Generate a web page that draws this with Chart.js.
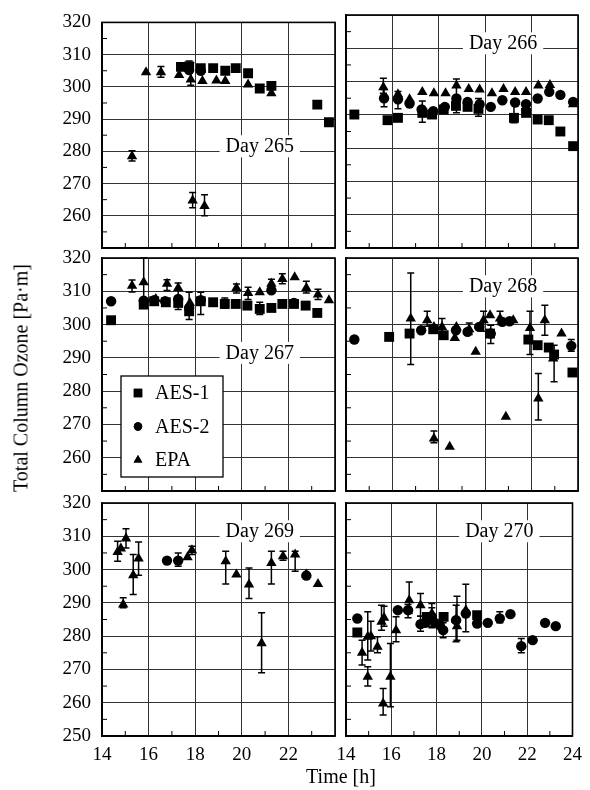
<!DOCTYPE html>
<html>
<head>
<meta charset="utf-8">
<script src="https://cdn.jsdelivr.net/npm/chart.js@4.4.0/dist/chart.umd.min.js"></script>
<style>
  html, body { margin: 0; padding: 0; background: #fff; }
  #wrap { position: relative; width: 590px; height: 790px; overflow: hidden; }
  #wrap canvas { position: absolute; left: 0; top: 0; }
  .title { position: absolute; font-family: 'Liberation Serif', 'DejaVu Serif', serif; font-size: 20px; color: #000; white-space: nowrap; }
  #ytitle { left: 21px; top: 378px; transform: translate(-50%, -50%) rotate(-90deg); }
  #xtitle { left: 341px; top: 776px; transform: translate(-50%, -50%); }
</style>
</head>
<body>
<div id="wrap">
  <canvas id="p265" width="590" height="790"></canvas>
  <canvas id="p266" width="590" height="790"></canvas>
  <canvas id="p267" width="590" height="790"></canvas>
  <canvas id="p268" width="590" height="790"></canvas>
  <canvas id="p269" width="590" height="790"></canvas>
  <canvas id="p270" width="590" height="790"></canvas>
  <div id="ytitle" class="title">Total Column Ozone [Pa·m]</div>
  <div id="xtitle" class="title">Time [h]</div>
</div>
<script>
// tick values
const timeTicks = [14, 16, 18, 20, 22, 24];
const ozoneTicks = [250, 260, 270, 280, 290, 300, 310, 320];
const seriesNames = ['AES-1', 'AES-2', 'EPA'];

// [time h, ozone, error low, error high]
const day265Aes1 = [[17.39, 306.2], [17.74, 306.3, 304.5, 308.0], [18.24, 305.8], [18.77, 305.8], [19.29, 305.0],
  [19.74, 305.8], [20.27, 304.2], [20.77, 299.5], [21.27, 300.3], [23.24, 294.5], [23.74, 289.0]];
const day265Aes2 = [[17.74, 305.2], [18.24, 305.0]];
const day265Epa = [[15.29, 278.5, 277.0, 280.2], [15.89, 304.5], [16.53, 304.5, 303.0, 306.3], [17.31, 303.7],
  [17.81, 302.3, 300.5, 307.5], [18.31, 301.8], [18.91, 302.0], [19.29, 301.8], [20.27, 300.7], [21.27, 298.0],
  [17.89, 264.7, 262.5, 267.2], [18.40, 263.0, 260.0, 266.5]];

const day266Aes1 = [[14.36, 290.1], [15.79, 288.4], [16.24, 289.1], [17.29, 290.6, 287.8, 294.2], [17.71, 290.1],
  [18.21, 291.6], [18.74, 292.7], [19.24, 292.4], [19.71, 291.8, 289.6, 294.9], [21.24, 289.1, 287.6, 294.2],
  [21.76, 290.6], [22.26, 288.6], [22.74, 288.4], [23.24, 285.0], [23.79, 280.6]];
const day266Aes2 = [[15.64, 295.0, 292.4, 297.6], [16.24, 294.7, 291.8, 297.0], [16.74, 293.4], [17.26, 291.6],
  [17.76, 291.1], [18.26, 292.4], [18.76, 294.9, 290.6, 300.8], [19.24, 293.9], [19.76, 293.2], [20.24, 292.4],
  [20.74, 294.4], [21.29, 293.7], [21.76, 293.2], [22.26, 294.9], [22.76, 296.9], [23.24, 296.0], [23.79, 293.9]];
const day266Epa = [[15.61, 298.3, 296.5, 301.0], [16.24, 296.2], [16.74, 294.7], [17.29, 296.9], [17.79, 296.5],
  [18.29, 296.5], [18.76, 298.8], [19.29, 297.8], [19.76, 297.6], [20.29, 296.5], [20.79, 297.8], [21.29, 296.9],
  [21.76, 296.9], [22.29, 298.8], [22.79, 299.0], [23.79, 293.2]];

const day267Aes1 = [[14.39, 301.3], [15.79, 306.0], [16.24, 307.0], [16.74, 306.7], [17.27, 306.5],
  [17.74, 304.0, 301.5, 309.7], [18.24, 307.0, 303.0, 309.7], [18.77, 306.7], [19.27, 306.2, 305.0, 308.0],
  [19.74, 306.2], [20.24, 305.7], [20.77, 304.7, 303.0, 306.7], [21.27, 305.0], [21.74, 306.2], [22.24, 306.2],
  [22.74, 305.7], [23.24, 303.5]];
const day267Aes2 = [[14.39, 307.0], [15.79, 307.2], [16.24, 307.3], [16.71, 307.0], [17.27, 307.7], [17.74, 305.0],
  [18.24, 307.3], [21.27, 310.3], [22.24, 306.5]];
const day267Epa = [[15.29, 311.7, 309.8, 313.4], [15.79, 312.7, 305.0, 320.0], [16.31, 307.7],
  [16.79, 312.3, 310.2, 313.5], [17.27, 311.0, 304.5, 312.5], [17.77, 306.5], [19.77, 311.0, 309.5, 312.2],
  [20.27, 309.5, 307.5, 311.2], [20.77, 309.7], [21.27, 312.3, 310.5, 313.6], [21.74, 313.7, 312.3, 315.3],
  [22.27, 314.2], [22.77, 311.0, 309.5, 313.0], [23.27, 309.0, 307.5, 310.6], [23.74, 307.3]];

const day268Aes1 = [[15.86, 296.3], [16.74, 297.3], [17.76, 298.6], [18.21, 296.8], [20.21, 297.3], [21.86, 295.5],
  [22.26, 293.8], [22.74, 293.1], [22.97, 291.0, 282.8, 293.8], [23.76, 285.6]];
const day268Aes2 = [[14.36, 295.5], [17.24, 298.3], [18.74, 298.3], [19.24, 297.8], [19.74, 299.3],
  [20.24, 297.3, 294.3, 299.8], [20.74, 300.8], [21.05, 301.0], [23.71, 293.6, 292.0, 295.5]];
const day268Epa = [[16.79, 301.8, 288.0, 315.5], [17.50, 301.3, 299.5, 304.0], [17.79, 299.3],
  [18.14, 299.3, 297.0, 301.8], [18.69, 296.0], [18.76, 299.3], [19.31, 298.6, 297.0, 300.5], [19.59, 291.8],
  [19.93, 301.3, 298.0, 304.0], [20.21, 302.8], [20.64, 301.8, 300.0, 304.0], [21.21, 301.3],
  [21.93, 299.0, 291.0, 304.0], [22.57, 301.3, 296.8, 305.8], [23.29, 297.3], [22.93, 289.8],
  [17.79, 265.8, 264.5, 268.0], [18.47, 263.3], [20.89, 272.3], [22.29, 277.8, 271.3, 285.3]];

const day269Aes1 = [];
const day269Aes2 = [[16.79, 302.7], [17.27, 302.7, 301.0, 305.0], [22.77, 298.2]];
const day269Epa = [[14.67, 305.3, 302.5, 308.5], [14.81, 306.3], [15.03, 309.3, 306.5, 312.3],
  [14.91, 289.5, 288.5, 291.5], [15.34, 298.3, 292.5, 304.5], [15.57, 303.3, 298.3, 308.3], [17.67, 303.7],
  [17.86, 305.8, 304.5, 307.0], [19.31, 302.5, 295.7, 305.5], [19.77, 298.5], [20.31, 295.5, 291.3, 300.5],
  [20.85, 277.9, 269.0, 287.0], [21.27, 302.0, 295.7, 305.5], [21.77, 304.0, 302.8, 305.5],
  [22.29, 304.5, 299.5, 305.5], [22.77, 298.5], [23.27, 295.7]];

const day270Aes1 = [[14.50, 281.1], [17.57, 285.8], [18.31, 285.8], [19.79, 286.3]];
const day270Aes2 = [[14.50, 285.3], [16.29, 287.8], [16.74, 287.8, 285.5, 289.5], [17.29, 283.6, 281.5, 286.0],
  [17.50, 284.0], [17.79, 285.8, 283.0, 288.5], [17.93, 284.0], [18.14, 283.3], [18.29, 281.8, 279.5, 284.0],
  [18.86, 284.8], [19.29, 286.8], [19.79, 283.8], [20.26, 284.0], [20.79, 285.3, 284.0, 287.3], [21.26, 286.6],
  [21.74, 277.0, 275.0, 279.3], [22.24, 278.8], [22.79, 284.0], [23.26, 283.0]];
const day270Epa = [[14.71, 275.0, 271.3, 278.8], [14.96, 279.8, 272.8, 287.3], [14.96, 267.8, 265.0, 270.8],
  [15.10, 280.0, 275.5, 284.5], [15.39, 276.8, 275.0, 279.8], [15.57, 284.3, 281.8, 289.3],
  [15.64, 259.8, 256.3, 264.3], [15.68, 285.5, 283.0, 289.0], [15.96, 267.8, 258.8, 277.8],
  [16.21, 281.8, 278.3, 285.8], [16.79, 290.8, 286.8, 296.3], [17.29, 289.3, 286.0, 292.8],
  [17.79, 286.8, 282.5, 289.8], [18.86, 285.0, 278.3, 289.3], [18.90, 283.0, 278.8, 292.0],
  [19.29, 287.8, 281.3, 295.6]];

const panels = [
  { id: 'p265', day: 'Day 265', col: 0, row: 0, level: 280, data: [day265Aes1, day265Aes2, day265Epa] },
  { id: 'p266', day: 'Day 266', col: 1, row: 0, level: 310, data: [day266Aes1, day266Aes2, day266Epa] },
  { id: 'p267', day: 'Day 267', col: 0, row: 1, level: 290, data: [day267Aes1, day267Aes2, day267Epa], legend: true },
  { id: 'p268', day: 'Day 268', col: 1, row: 1, level: 310, data: [day268Aes1, day268Aes2, day268Epa] },
  { id: 'p269', day: 'Day 269', col: 0, row: 2, level: 310, data: [day269Aes1, day269Aes2, day269Epa] },
  { id: 'p270', day: 'Day 270', col: 1, row: 2, level: 310, data: [day270Aes1, day270Aes2, day270Epa] }
];

const cols = [{ left: 102, right: 335 }, { left: 346, right: 578 }];
const rows = [{ top: 15, bottom: 248 }, { top: 258, bottom: 491 }, { top: 503, bottom: 736 }];
const styles = [
  { pointStyle: 'rect', radius: 7 },
  { pointStyle: 'circle', radius: 5.2 },
  { pointStyle: 'triangle', radius: 6 }
];
const FONT = "'Liberation Serif', 'DejaVu Serif', serif";

Chart.defaults.font.family = FONT;
Chart.defaults.font.size = 19;
Chart.defaults.color = '#000';

const errorBars = {
  id: 'errorBars',
  beforeDatasetsDraw(chart) {
    const ctx = chart.ctx;
    const ys = chart.scales.y;
    ctx.save();
    ctx.strokeStyle = '#000';
    ctx.lineWidth = 1.5;
    chart.data.datasets.forEach((ds, i) => {
      const meta = chart.getDatasetMeta(i);
      ds.data.forEach((p, j) => {
        if (p.lo === undefined) return;
        const x = meta.data[j].x;
        const y1 = ys.getPixelForValue(p.lo);
        const y2 = ys.getPixelForValue(p.hi);
        ctx.beginPath();
        ctx.moveTo(x, y1); ctx.lineTo(x, y2);
        ctx.moveTo(x - 3.5, y1); ctx.lineTo(x + 3.5, y1);
        ctx.moveTo(x - 3.5, y2); ctx.lineTo(x + 3.5, y2);
        ctx.stroke();
      });
    });
    ctx.restore();
  }
};

const dayLabel = {
  id: 'dayLabel',
  beforeDatasetsDraw(chart, args, opts) {
    const ctx = chart.ctx;
    const x = chart.scales.x.getPixelForValue(20.77);
    const y = chart.scales.y.getPixelForValue(opts.level);
    ctx.save();
    ctx.font = '20px ' + FONT;
    const w = ctx.measureText(opts.text).width;
    ctx.fillStyle = '#fff';
    ctx.fillRect(x - w / 2 - 6, y - 16, w + 12, 22);
    ctx.fillStyle = '#000';
    ctx.textAlign = 'center';
    ctx.textBaseline = 'alphabetic';
    ctx.fillText(opts.text, x, y + 1);
    ctx.restore();
  }
};

const frame = {
  id: 'frame',
  afterDraw(chart) {
    const ctx = chart.ctx;
    const a = chart.chartArea;
    const xs = chart.scales.x, ys = chart.scales.y;
    ctx.save();
    ctx.strokeStyle = '#000';
    ctx.lineWidth = 1;
    ctx.beginPath();
    for (let v = 255; v < 320; v += 10) {
      const y = ys.getPixelForValue(v);
      ctx.moveTo(a.left, y); ctx.lineTo(a.left + 5, y);
    }
    for (let h = 15; h < 24; h += 2) {
      const x = xs.getPixelForValue(h);
      ctx.moveTo(x, a.bottom); ctx.lineTo(x, a.bottom - 5);
    }
    ctx.stroke();
    ctx.lineWidth = 1.6;
    ctx.strokeRect(a.left, a.top, a.right - a.left, a.bottom - a.top);
    ctx.restore();
  }
};

const legendBox = {
  id: 'legendBox',
  afterDatasetsDraw(chart) {
    const ctx = chart.ctx;
    const a = chart.chartArea;
    const left = a.left + 19, top = a.top + 118;
    ctx.save();
    ctx.fillStyle = '#fff';
    ctx.fillRect(left, top, 102, 101);
    ctx.strokeStyle = '#000';
    ctx.lineWidth = 1.3;
    ctx.strokeRect(left, top, 102, 101);
    ctx.font = '20px ' + FONT;
    ctx.textBaseline = 'middle';
    chart.data.datasets.forEach((ds, i) => {
      const cy = top + 17 + i * 33.5;
      ctx.fillStyle = '#000';
      Chart.helpers.drawPoint(ctx, { pointStyle: styles[i].pointStyle, radius: styles[i].radius - 1, rotation: 0, borderWidth: 0 }, left + 17, cy);
      ctx.fill();
      ctx.fillText(ds.label, left + 34, cy + 1);
    });
    ctx.restore();
  }
};

panels.forEach(p => {
  const c = cols[p.col], r = rows[p.row];
  const xHeight = p.row === 2 ? 34 : 0;
  const plugins = [errorBars, dayLabel, frame];
  if (p.legend) plugins.push(legendBox);

  new Chart(document.getElementById(p.id), {
    type: 'scatter',
    data: {
      datasets: p.data.map((arr, i) => ({
        label: seriesNames[i],
        data: arr.map(d => ({ x: d[0], y: d[1], lo: d[2], hi: d[3] })),
        pointStyle: styles[i].pointStyle,
        pointRadius: styles[i].radius,
        backgroundColor: '#000',
        borderColor: '#000',
        borderWidth: 0,
        order: 2 - i
      }))
    },
    options: {
      responsive: false,
      animation: false,
      events: [],
      layout: {
        padding: {
          left: p.col === 0 ? 0 : c.left,
          right: 590 - c.right,
          top: r.top,
          bottom: 790 - r.bottom - xHeight
        }
      },
      scales: {
        x: {
          min: 14, max: 24,
          afterBuildTicks: s => { s.ticks = timeTicks.map(v => ({ value: v })); },
          afterFit: s => { s.height = xHeight; },
          grid: { color: '#333', lineWidth: 1, drawTicks: false },
          border: { color: '#000', width: 1.5 },
          ticks: {
            display: p.row === 2,
            padding: 8,
            font: { size: 19 },
            callback: v => (p.col === 0 && v === 24 ? '' : v)
          }
        },
        y: {
          min: 250, max: 320,
          afterBuildTicks: s => { s.ticks = ozoneTicks.map(v => ({ value: v })); },
          afterFit: s => { s.width = p.col === 0 ? c.left : 0; },
          grid: { color: '#333', lineWidth: 1, drawTicks: false },
          border: { color: '#000', width: 1.5 },
          ticks: {
            display: p.col === 0,
            padding: 11,
            font: { size: 19 },
            callback: v => (p.row < 2 && v === 250 ? '' : v)
          }
        }
      },
      plugins: {
        legend: { display: false },
        tooltip: { enabled: false },
        dayLabel: { text: p.day, level: p.level }
      }
    },
    plugins: plugins
  });
});
</script>
</body>
</html>
